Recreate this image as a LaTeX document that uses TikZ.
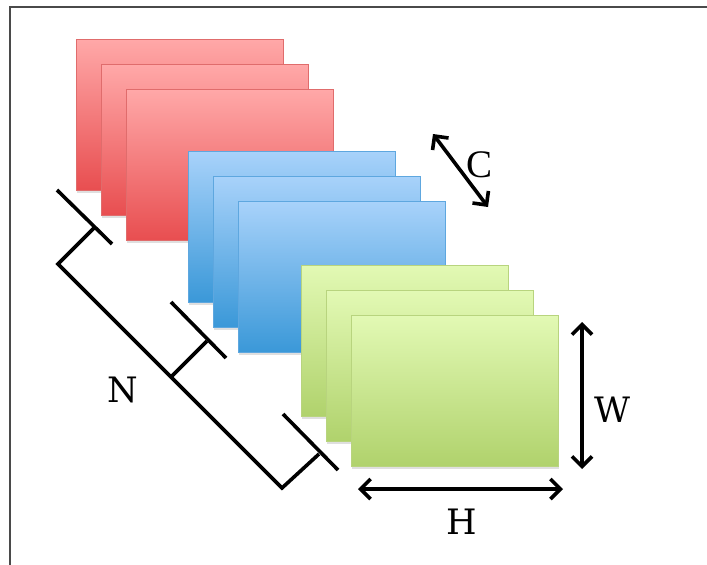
\documentclass[tikz,border=0pt]{standalone}
\usepackage{fontspec}
\setmainfont{DejaVu Serif}
\newfontfamily\capfont{Liberation Serif}
\usetikzlibrary{arrows.meta,shadows}

\definecolor{redtop}{HTML}{FFA8A8}
\definecolor{redbot}{HTML}{E84E50}
\definecolor{redline}{HTML}{E06C6C}
\definecolor{bluetop}{HTML}{A8D2FA}
\definecolor{bluebot}{HTML}{3A98D8}
\definecolor{blueline}{HTML}{5EA7DF}
\definecolor{greentop}{HTML}{E2F9B4}
\definecolor{greenbot}{HTML}{B0D26C}
\definecolor{greenline}{HTML}{B8D47E}
\definecolor{framegray}{HTML}{4A4A4A}

\tikzset{
  sheet/.style={rectangle, minimum width=207pt, minimum height=151pt,
    inner sep=0pt, line width=1pt, anchor=north west,
    drop shadow={shadow xshift=0.6pt, shadow yshift=-2pt, opacity=0.25}},
  redsheet/.style={sheet, draw=redline, top color=redtop, bottom color=redbot},
  bluesheet/.style={sheet, draw=blueline, top color=bluetop, bottom color=bluebot},
  greensheet/.style={sheet, draw=greenline, top color=greentop, bottom color=greenbot},
  bracket/.style={line width=3.6pt, black},
  dimarrow/.style={line width=3.6pt, black,
    {Straight Barb[length=10pt,width=20pt]}-{Straight Barb[length=10pt,width=20pt]}},
  letter/.style={font=\fontsize{35}{40}\selectfont, inner sep=0pt}
}

\begin{document}
\begin{tikzpicture}[x=1pt, y=-1pt]
  \useasboundingbox (0,0) rectangle (707,565);
  \fill[white] (0,0) rectangle (707,565);

  % open frame: top and left edges
  \draw[framegray, line width=2pt] (10,565) -- (10,7) -- (707,7);

  % three stacks of feature maps
  \node[redsheet]   (r1) at (76,39)   {};
  \node[redsheet]   (r2) at (101,64)  {};
  \node[redsheet]   (r3) at (126,89)  {};
  \node[bluesheet]  (b1) at (188,151) {};
  \node[bluesheet]  (b2) at (213,176) {};
  \node[bluesheet]  (b3) at (238,201) {};
  \node[greensheet] (g1) at (301,265) {};
  \node[greensheet] (g2) at (326,290) {};
  \node[greensheet] (g3) at (351,315) {};

  % bracket spanning the batch dimension N
  \coordinate (ta) at (57,190);  \coordinate (tb) at (112,244);
  \coordinate (ts) at (94,228);
  \coordinate (ma) at (171,302); \coordinate (mb) at (226,358);
  \coordinate (ms) at (207,341); \coordinate (mm) at (171,377);
  \coordinate (ba) at (283,414); \coordinate (bb) at (338,470);
  \coordinate (bs) at (319,454);
  \coordinate (c1) at (58,264);  \coordinate (c2) at (282,488);

  \draw[bracket] (ta) -- (tb);
  \draw[bracket] (ma) -- (mb);
  \draw[bracket] (ba) -- (bb);
  \draw[bracket, line join=miter] (ts) -- (c1) -- (c2) -- (bs);
  \draw[bracket] (mm) -- (ms);

  \node[letter] (n) at (123,390) {N};

  % channel, width and height arrows
  \coordinate (ca) at (433,134); \coordinate (cb) at (488,207);
  \draw[dimarrow] (ca) -- (cb);
  \node[letter, font=\capfont\fontsize{39}{44}\selectfont] (c) at (480,165) {C};

  \coordinate (wa) at (582,322); \coordinate (wb) at (582,469);
  \draw[dimarrow] (wa) -- (wb);
  \node[letter] (w) at (612,410) {W};

  \coordinate (ha) at (358,489); \coordinate (hb) at (563,489);
  \draw[dimarrow] (ha) -- (hb);
  \node[letter] (h) at (462,522) {H};
\end{tikzpicture}
\end{document}
